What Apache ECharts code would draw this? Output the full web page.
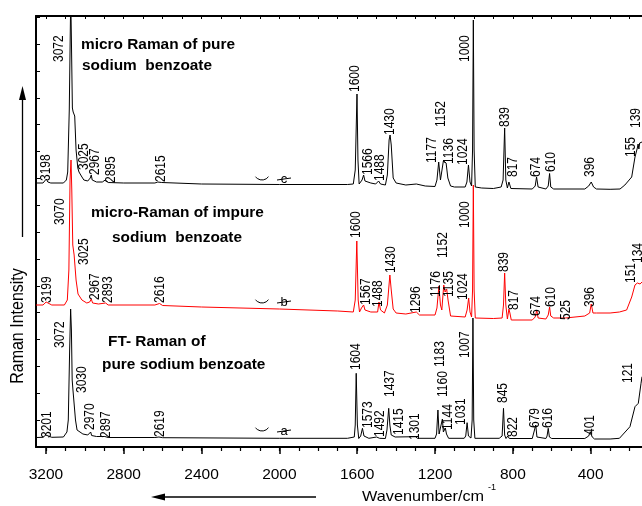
<!DOCTYPE html>
<html>
<head>
<meta charset="utf-8">
<script src="https://cdn.jsdelivr.net/npm/echarts@6/dist/echarts.min.js"></script>
<style>html,body{margin:0;padding:0;background:#fff;}#c{width:642px;height:506px;}</style>
</head>
<body>
<div id="c"></div>
<script>
// ---- Data (wavenumber cm^-1, stacked intensity in plot units) ----
const wnMajorTicks = [400, 800, 1200, 1600, 2000, 2400, 2800, 3200];

// (a) micro Raman of pure sodium benzoate (top, black)
const spectrumPureMicro = [
  [3251,264],[3215,264],[3205,266],[3198,268],[3190,265],[3175,264],[3110,264],[3095,267],[3088,275],
  [3080,337],[3074,427],[3072,445],[3069,407],[3064,339],[3060,335],[3052,331],[3045,297],[3036,279],
  [3030,275],[3025,276],[3018,271],[3005,267],[2985,266],[2972,269],[2967,272],[2962,267],[2940,265],
  [2910,265],[2895,267],[2880,264.5],[2800,264],[2640,264],[2625,265],[2615,266],[2605,264.5],
  [2400,263],[2000,262.5],[1650,262.5],[1620,263],[1610,277],[1601,353],[1596,287],[1590,263],
  [1583,262],[1575,267],[1567,272],[1560,266],[1530,264],[1505,263],[1490,266],[1480,263],[1455,262],
  [1445,272],[1436,307],[1431,312],[1425,302],[1415,269],[1400,264],[1350,262],[1296,263],[1250,261],
  [1200,260.5],[1190,267],[1181,285],[1172,267],[1165,265],[1157,286],[1151,287],[1143,284],[1134,269],
  [1120,261],[1100,260],[1045,260],[1036,265],[1028,282],[1020,265],[1012,261],[1007,297],[1003,427],
  [999,297],[993,260],[960,259],[900,258.5],[860,260],[850,267],[842,319],[836,267],[828,259],
  [820,265],[815,264],[810,258.5],[700,258],[685,261],[678,270],[670,260],[630,258],[618,261],
  [611,273.5],[605,260],[590,258],[430,258],[410,261],[397,265],[385,260],[370,258],[300,257.7],
  [249,258],[224,262],[189,270],[172,290],[160,299],[156,303],[152,298],[148,304],[136,305]
];

// (b) micro-Raman of impure sodium benzoate (middle, red)
const spectrumImpureMicro = [
  [3251,142],[3215,142],[3205,144],[3199,145],[3190,143],[3170,142],[3105,142],[3090,147],[3082,177],
  [3076,267],[3071,287],[3067,257],[3062,202],[3055,192],[3045,167],[3035,153],[3025,151],[3015,147],
  [2990,144],[2975,145],[2967,148],[2960,144],[2930,143],[2893,144],[2880,142],[2640,142],
  [2616,143.5],[2600,141.5],[2400,140],[2000,138],[1700,136],[1620,135],[1610,147],[1602,206],
  [1595,147],[1588,135],[1578,139],[1567,142],[1560,137],[1530,135],[1495,135],[1488,145],[1480,137],
  [1460,134],[1445,142],[1432,172],[1425,157],[1415,138],[1400,134],[1350,133],[1296,135],[1280,132],
  [1200,132],[1190,139],[1180,161],[1172,142],[1165,137],[1155,162],[1148,155],[1140,158],[1133,147],
  [1120,131],[1045,130],[1035,137],[1027,149],[1020,135],[1012,130],[1007,157],[1003,262],[999,157],
  [993,129],[900,128.5],[855,129],[848,142],[842,174],[836,142],[828,128],[820,138],[815,134],
  [808,127],[700,127],[685,130],[677,137],[670,129],[630,128],[618,132],[611,140],[605,131],[590,129],
  [530,129],[525,131],[520,129],[430,131],[405,134],[397,143],[388,134],[370,134],[300,134],
  [252,135],[215,137],[189,150],[172,162],[160,164],[155,164],[151,166],[146,163],[136,165]
];

// (c) FT-Raman of pure sodium benzoate (bottom, black)
const spectrumPureFT = [
  [3251,9.5],[3215,9.7],[3207,10.5],[3201,12],[3195,10],[3170,9.7],[3110,10],[3092,15],[3085,27],
  [3078,97],[3073,138],[3069,117],[3065,67],[3061,57],[3055,55],[3048,27],[3040,17],[3030,15],
  [3010,13],[2985,12],[2975,14],[2970,15],[2965,11.5],[2940,10.5],[2897,10.5],[2880,9.5],[2640,9.5],
  [2619,10],[2600,9.3],[2000,8.7],[1650,8.7],[1615,10],[1610,22],[1605,73.7],[1599,22],[1592,8.5],
  [1582,11],[1573,18.7],[1565,11],[1540,8.7],[1500,10],[1492,12],[1485,8.7],[1455,8.5],[1447,17],
  [1438,38.7],[1432,22],[1425,12],[1415,14],[1405,10],[1301,10.3],[1290,8.7],[1200,8.7],[1192,13],
  [1185,37],[1179,13],[1170,15],[1162,28],[1157,15],[1147,19],[1141,13],[1130,8.7],[1050,8.7],
  [1042,11],[1035,24.3],[1028,11],[1015,9],[1009,27],[1005,129],[1001,27],[995,8.7],[870,8.7],
  [855,11],[848,38.7],[842,12],[835,8.5],[826,11],[822,12],[818,8.5],[700,8.5],[690,10],[682,22],
  [676,10],[630,8.5],[624,11],[618,18.7],[612,10],[600,8.5],[430,8.5],[410,11],[402,15.3],[392,10],
  [380,8],[300,8],[252,8.7],[198,20.3],[172,40.3],[155,43.7],[141,63.7],[136,70.3]
];

// Peak labels: [text, wavenumber at label centre, intensity at label foot]
const labelsPureMicro = [
  ['3198',3197,266],['3072',3132,385],['3025',3005,277],['2967',2948,272],['2895',2862,264],
  ['2615',2610,265],['1600',1612,355],['1566',1543,272],['1488',1483,266],['1430',1428,312],
  ['1177',1213,284],['1152',1166,320],['1136',1127,283],['1024',1055,282],['1000',1046,385],
  ['839',841,320],['817',800,270],['674',682,270],['610',605,275],['396',400,270],
  ['155',194,290],['139',164,319]
];
const labelsImpureMicro = [
  ['3070',3128,222],['3199',3192,144],['3025',3004,182],['2967',2948,147],['2893',2880,144],
  ['2616',2614,144],['1600',1603,209],['1567',1552,142],['1488',1492,140],['1430',1423,174],
  ['1296',1298,134],['1176',1192,150],['1152',1158,189],['1135',1128,150],['1024',1055,147],
  ['1000',1046,219],['839',845,175],['817',795,137],['674',682,131],['610',605,140],
  ['525',524,127],['396',400,140],['151',189,164],['134',156,184]
];
const labelsPureFT = [
  ['3072',3128,99],['3030',3011,54],['3201',3196,9],['2970',2974,17],['2897',2888,9],
  ['2619',2611,10],['1604',1603,77],['1573',1543,19],['1492',1483,10],['1437',1432,50],
  ['1415',1383,12],['1301',1303,7],['1183',1175,80],['1160',1158,50],['1144',1132,17],
  ['1031',1063,22],['1007',1046,89],['845',849,44],['822',798,10],['679',687,19],
  ['616',618,19],['401',404,12],['121',207,64]
];

// ---- Chart ----
const FONT = "Arial, 'Liberation Sans', Helvetica, sans-serif";
const RED = '#ff0000';
const minorTicks = [];
for (let v = 200; v <= 3200; v += 100) minorTicks.push(v);

function lineSeries(name, data, color) {
  return { name, type: 'line', data, showSymbol: false, symbol: 'none', smooth: false, clip: true,
    lineStyle: { color, width: 1 }, itemStyle: { color }, silent: true, z: 3 };
}
function labelSeries(list, color) {
  return {
    type: 'custom', coordinateSystem: 'cartesian2d', xAxisIndex: 0, yAxisIndex: 0, silent: true, z: 6,
    data: list.map(d => [d[1], d[2]]),
    renderItem: function (params, api) {
      const p = api.coord([api.value(0), api.value(1)]);
      return { type: 'text', x: p[0], y: p[1], rotation: Math.PI / 2, scaleY: 1.15,
        style: { text: list[params.dataIndex][0], fill: color, fontSize: 12, fontFamily: FONT,
          align: 'left', verticalAlign: 'middle', textAlign: 'left', textVerticalAlign: 'middle' } };
    }
  };
}
function txt(x, y, text, opt) {
  opt = opt || {};
  return { type: 'text', x, y, rotation: opt.rotation || 0, scaleX: opt.scaleX || 1, scaleY: opt.scaleY || 1, z: 10,
    style: { text, fill: '#000', fontSize: opt.size || 15, fontWeight: opt.weight || 'normal', fontFamily: FONT,
      align: opt.align || 'left', verticalAlign: 'middle', textAlign: opt.align || 'left', textVerticalAlign: 'middle' } };
}
function smile(cx, cy) {
  return { type: 'arc', z: 10, shape: { cx, cy, r: 8, startAngle: Math.PI * 0.2, endAngle: Math.PI * 0.8, clockwise: true },
    style: { stroke: '#000', fill: null, lineWidth: 1 } };
}
function struck(x, y, letter) {
  return [ txt(x, y, letter, { size: 13, align: 'center' }),
    { type: 'line', z: 10, shape: { x1: x - 7, y1: y + 1, x2: x + 7, y2: y - 1 }, style: { stroke: '#000', lineWidth: 1 } } ];
}

const xCommon = { type: 'value', inverse: true, min: 136, max: 3251, splitLine: { show: false } };
const option = {
  animation: false,
  backgroundColor: '#fff',
  grid: { left: 36, right: 0, top: 16, bottom: 59 },
  xAxis: [
    Object.assign({}, xCommon, { position: 'bottom',
      axisLine: { onZero: false, lineStyle: { color: '#000', width: 2 } },
      axisTick: { show: true, inside: false, length: 7, customValues: wnMajorTicks, lineStyle: { color: '#000', width: 1.5 } },
      axisLabel: { show: true, customValues: wnMajorTicks, margin: 20, fontSize: 15.5, color: '#000', fontFamily: FONT,
        formatter: function (v) { return String(v); } } }),
    Object.assign({}, xCommon, { position: 'bottom',
      axisLine: { show: false, onZero: false },
      axisTick: { show: true, inside: false, length: 4, customValues: minorTicks, lineStyle: { color: '#000', width: 1.2 } },
      axisLabel: { show: false } }),
    Object.assign({}, xCommon, { position: 'top',
      axisLine: { onZero: false, lineStyle: { color: '#000', width: 2 } },
      axisTick: { show: true, inside: true, length: 3, customValues: minorTicks, lineStyle: { color: '#000', width: 1 } },
      axisLabel: { show: false } })
  ],
  yAxis: [{
    type: 'value', min: 0, max: 431, interval: 26.86,
    axisLine: { show: true, onZero: false, lineStyle: { color: '#000', width: 2 } },
    axisTick: { show: true, inside: true, length: 4, lineStyle: { color: '#000', width: 1 } },
    axisLabel: { show: false }, splitLine: { show: false }
  }],
  series: [
    lineSeries('FT-Raman pure', spectrumPureFT, '#000'),
    lineSeries('micro-Raman impure', spectrumImpureMicro, RED),
    lineSeries('micro Raman pure', spectrumPureMicro, '#000'),
    labelSeries(labelsPureMicro, '#000'),
    labelSeries(labelsImpureMicro, '#000'),
    labelSeries(labelsPureFT, '#000')
  ],
  graphic: [
    txt(81, 45, 'micro Raman of pure', { size: 14, weight: 'bold', scaleX: 1.1 }),
    txt(82, 66, 'sodium  benzoate', { size: 14, weight: 'bold', scaleX: 1.1 }),
    txt(91, 213, 'micro-Raman of impure', { size: 14, weight: 'bold', scaleX: 1.1 }),
    txt(112, 238, 'sodium  benzoate', { size: 14, weight: 'bold', scaleX: 1.1 }),
    txt(108, 342, 'FT- Raman of', { size: 14, weight: 'bold', scaleX: 1.1 }),
    txt(102, 365, 'pure sodium benzoate', { size: 14, weight: 'bold', scaleX: 1.1 }),
    txt(18, 326, 'Raman Intensity', { size: 16, align: 'center', rotation: Math.PI / 2, scaleY: 1.15 }),
    txt(362, 497, 'Wavenumber/cm', { size: 14.5, scaleX: 1.12 }),
    txt(488, 488, '-1', { size: 9 }),
    { type: 'line', z: 10, shape: { x1: 22.5, y1: 237, x2: 22.5, y2: 98 }, style: { stroke: '#000', lineWidth: 1.3 } },
    { type: 'polygon', z: 10, shape: { points: [[22.5, 86], [19, 100], [26, 100]] }, style: { fill: '#000' } },
    { type: 'line', z: 10, shape: { x1: 163, y1: 497, x2: 316, y2: 497 }, style: { stroke: '#000', lineWidth: 1.3 } },
    { type: 'polygon', z: 10, shape: { points: [[151, 497], [165, 493.5], [165, 500.5]] }, style: { fill: '#000' } },
    smile(262, 172), smile(262, 295), smile(262, 423)
  ].concat(struck(284, 179, 'c'), struck(284, 302, 'b'), struck(284, 431, 'a'))
};
const chart = echarts.init(document.getElementById('c'), null, { renderer: 'canvas' });
chart.setOption(option);
</script>
</body>
</html>
